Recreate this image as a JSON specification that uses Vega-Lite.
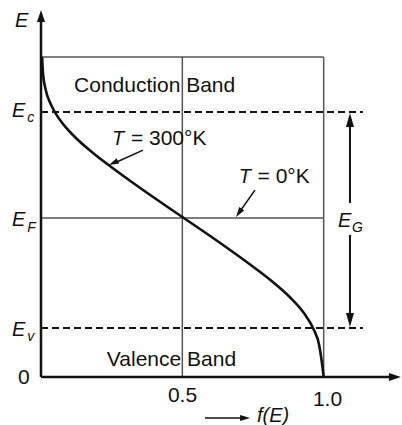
{
  "$schema": "https://vega.github.io/schema/vega-lite/v6.json",
  "width": 359,
  "height": 367,
  "autosize": {"type": "none"},
  "padding": {"left": 41, "top": 10, "right": 2, "bottom": 48},
  "background": "white",
  "config": {"view": {"stroke": null}, "font": "Liberation Sans"},
  "datasets": {
    "curve": [
      {"f": 0.004, "E": 1.0}, {"f": 0.007, "E": 0.95}, {"f": 0.016, "E": 0.9}, {"f": 0.036, "E": 0.85},
      {"f": 0.07, "E": 0.8}, {"f": 0.12, "E": 0.75}, {"f": 0.184, "E": 0.7}, {"f": 0.258, "E": 0.65},
      {"f": 0.336, "E": 0.6}, {"f": 0.417, "E": 0.55}, {"f": 0.5, "E": 0.5}, {"f": 0.583, "E": 0.45},
      {"f": 0.664, "E": 0.4}, {"f": 0.742, "E": 0.35}, {"f": 0.816, "E": 0.3}, {"f": 0.88, "E": 0.25},
      {"f": 0.93, "E": 0.2}, {"f": 0.964, "E": 0.15}, {"f": 0.984, "E": 0.1}, {"f": 0.993, "E": 0.05},
      {"f": 1.0, "E": 0.0}
    ],
    "grid": [
      {"f": 0, "E": 1.0, "f2": 1.0, "E2": 1.0},
      {"f": 1.0, "E": 0, "f2": 1.0, "E2": 1.0},
      {"f": 0.5, "E": 0, "f2": 0.5, "E2": 1.0},
      {"f": 0, "E": 0.497, "f2": 1.0, "E2": 0.497}
    ],
    "dash": [
      {"f": 0, "E": 0.828, "f2": 1.139, "E2": 0.828},
      {"f": 0, "E": 0.153, "f2": 1.139, "E2": 0.153}
    ],
    "axes": [
      {"f": 0, "E": 0, "f2": 0, "E2": 1.115},
      {"f": 0, "E": 0, "f2": 1.245, "E2": 0}
    ],
    "eg": [
      {"f": 1.093, "E": 0.803, "f2": 1.093, "E2": 0.544},
      {"f": 1.093, "E": 0.444, "f2": 1.093, "E2": 0.178}
    ],
    "ann": [
      {"f": 0.361, "E": 0.709, "f2": 0.26, "E2": 0.669},
      {"f": 0.757, "E": 0.584, "f2": 0.7, "E2": 0.513},
      {"f": 0.58, "E": -0.128, "f2": 0.722, "E2": -0.128}
    ],
    "headAxisUp": [{"f": 0, "E": 1.128}],
    "headAxisRight": [{"f": 1.252, "E": 0}],
    "headEgUp": [{"f": 1.093, "E": 0.803}],
    "headEgDown": [{"f": 1.093, "E": 0.178}],
    "headT300": [{"f": 0.256, "E": 0.669}],
    "headT0": [{"f": 0.7, "E": 0.513}],
    "headFE": [{"f": 0.722, "E": -0.128}],
    "textUp": [
      {"f": 0.117, "E": 0.891, "t": "Conduction Band"},
      {"f": 0.233, "E": 0.034, "t": "Valence Band"},
      {"f": -0.081, "E": -0.022, "t": "0"},
      {"f": 0.449, "E": -0.078, "t": "0.5"},
      {"f": 0.962, "E": -0.091, "t": "1.0"},
      {"f": 0.318, "E": 0.725, "t": "= 300°K"},
      {"f": 0.766, "E": 0.606, "t": "= 0°K"}
    ],
    "textIt": [
      {"f": -0.092, "E": 1.094, "t": "E"},
      {"f": -0.103, "E": 0.8125, "t": "E"},
      {"f": -0.103, "E": 0.472, "t": "E"},
      {"f": -0.103, "E": 0.128, "t": "E"},
      {"f": 1.051, "E": 0.469, "t": "E"},
      {"f": 0.251, "E": 0.725, "t": "T"},
      {"f": 0.7, "E": 0.606, "t": "T"},
      {"f": 0.764, "E": -0.141, "t": "f(E)"}
    ],
    "textSub": [
      {"f": -0.049, "E": 0.797, "t": "c"},
      {"f": -0.049, "E": 0.453, "t": "F"},
      {"f": -0.049, "E": 0.1125, "t": "v"},
      {"f": 1.1, "E": 0.453, "t": "G"}
    ]
  },
  "encoding": {
    "x": {"field": "f", "type": "quantitative", "scale": {"domain": [0, 1.27], "nice": false, "zero": false}, "axis": null},
    "y": {"field": "E", "type": "quantitative", "scale": {"domain": [0, 1.147], "nice": false, "zero": false}, "axis": null}
  },
  "layer": [
    {"data": {"name": "grid"}, "mark": {"type": "rule", "stroke": "#555555", "strokeWidth": 1.5},
     "encoding": {"x2": {"field": "f2"}, "y2": {"field": "E2"}}},
    {"data": {"name": "dash"}, "mark": {"type": "rule", "stroke": "#111111", "strokeWidth": 2, "strokeDash": [7, 4]},
     "encoding": {"x2": {"field": "f2"}, "y2": {"field": "E2"}}},
    {"data": {"name": "axes"}, "mark": {"type": "rule", "stroke": "#111111", "strokeWidth": 2.5},
     "encoding": {"x2": {"field": "f2"}, "y2": {"field": "E2"}}},
    {"data": {"name": "eg"}, "mark": {"type": "rule", "stroke": "#111111", "strokeWidth": 2},
     "encoding": {"x2": {"field": "f2"}, "y2": {"field": "E2"}}},
    {"data": {"name": "ann"}, "mark": {"type": "rule", "stroke": "#111111", "strokeWidth": 1.6},
     "encoding": {"x2": {"field": "f2"}, "y2": {"field": "E2"}}},
    {"data": {"name": "curve"}, "mark": {"type": "line", "stroke": "#111111", "strokeWidth": 2.6, "interpolate": "monotone"}},
    {"data": {"name": "headAxisUp"}, "mark": {"type": "point", "shape": "M0,-1L0.667,1L-0.667,1Z", "size": 144, "filled": true, "color": "#111111", "opacity": 1}},
    {"data": {"name": "headAxisRight"}, "mark": {"type": "point", "shape": "M1,0L-1,0.667L-1,-0.667Z", "size": 144, "filled": true, "color": "#111111", "opacity": 1}},
    {"data": {"name": "headEgUp"}, "mark": {"type": "point", "shape": "M0,-1L0.57,1L-0.57,1Z", "size": 196, "filled": true, "color": "#111111", "opacity": 1}},
    {"data": {"name": "headEgDown"}, "mark": {"type": "point", "shape": "M0,1L0.57,-1L-0.57,-1Z", "size": 196, "filled": true, "color": "#111111", "opacity": 1}},
    {"data": {"name": "headT300"}, "mark": {"type": "point", "shape": "M0,-1L0.6,1L-0.6,1Z", "size": 100, "angle": 245.5, "filled": true, "color": "#111111", "opacity": 1}},
    {"data": {"name": "headT0"}, "mark": {"type": "point", "shape": "M0,-1L0.6,1L-0.6,1Z", "size": 100, "angle": 215, "filled": true, "color": "#111111", "opacity": 1}},
    {"data": {"name": "headFE"}, "mark": {"type": "point", "shape": "M1,0L-1,0.6L-1,-0.6Z", "size": 100, "filled": true, "color": "#111111", "opacity": 1}},
    {"data": {"name": "textUp"}, "mark": {"type": "text", "align": "left", "baseline": "alphabetic", "fontSize": 21, "color": "#111111", "font": "Liberation Sans"},
     "encoding": {"text": {"field": "t"}}},
    {"data": {"name": "textIt"}, "mark": {"type": "text", "align": "left", "baseline": "alphabetic", "fontSize": 20, "fontStyle": "italic", "color": "#111111", "font": "Liberation Sans"},
     "encoding": {"text": {"field": "t"}}},
    {"data": {"name": "textSub"}, "mark": {"type": "text", "align": "left", "baseline": "alphabetic", "fontSize": 14, "fontStyle": "italic", "color": "#111111", "font": "Liberation Sans"},
     "encoding": {"text": {"field": "t"}}}
  ]
}
